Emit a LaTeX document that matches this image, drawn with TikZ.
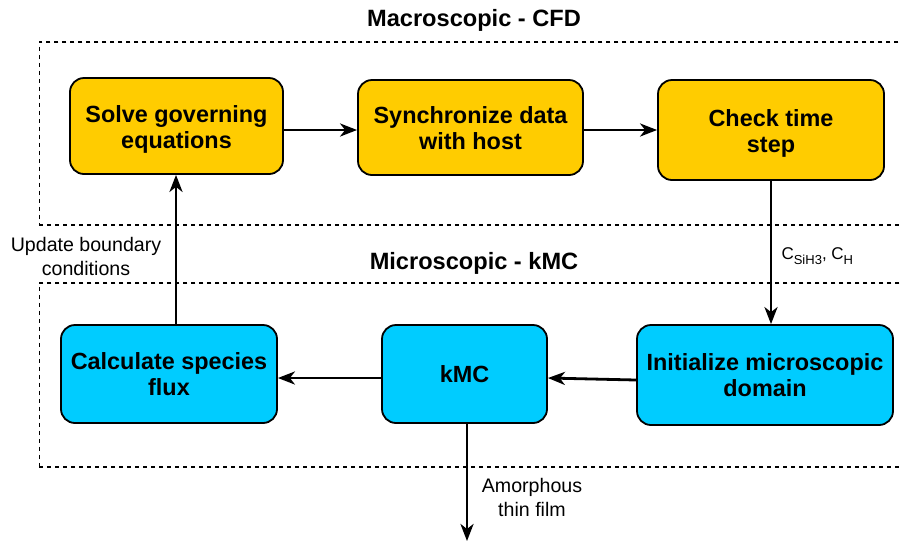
\documentclass[tikz,border=0pt]{standalone}
\usepackage{fontspec}
\setmainfont{Liberation Sans}
\usetikzlibrary{arrows.meta,positioning}
\definecolor{boxyellow}{HTML}{FFCC00}
\definecolor{boxcyan}{HTML}{00CCFF}
\newcommand{\subx}[1]{\raisebox{-4.5pt}{\fontsize{13}{13}\selectfont #1}}
\newcommand{\lowtext}[1]{\raisebox{-4pt}[\height][\depth]{\begin{tabular}{@{}c@{}}#1\end{tabular}}}
\tikzset{
  procbox/.style={draw=black, line width=1.8pt, rounded corners=14pt, align=center,
    font=\fontsize{23.4}{26}\selectfont\bfseries, inner sep=0pt},
  ybox/.style={procbox, fill=boxyellow},
  cbox/.style={procbox, fill=boxcyan},
  zone/.style={draw=black, line width=1.6pt, dash pattern=on 4pt off 4pt},
  ttl/.style={font=\fontsize{23.6}{26}\selectfont\bfseries},
  lbl/.style={font=\fontsize{19.6}{24}\selectfont, align=center},
  flow/.style={draw=black, line width=2.8pt, -{Stealth[length=17pt,width=13pt,inset=5pt]}}
}
\begin{document}
\begin{tikzpicture}[x=1pt,y=-1pt]
\useasboundingbox (0,0) rectangle (901,542);
% zones
\node[zone, minimum width=862pt, minimum height=183pt, anchor=north west] (macro) at (38.5,41) {};
\node[zone, minimum width=862pt, minimum height=184pt, anchor=north west] (micro) at (38.5,282) {};
\node[ttl] (tmacro) at (474,20) {Macroscopic - CFD};
\node[ttl] (tmicro) at (474,263) {Microscopic - kMC};
% boxes
\node[ybox, minimum width=213pt, minimum height=96pt] (solve) at (176.5,126) {\lowtext{Solve governing\\equations}};
\node[ybox, minimum width=225pt, minimum height=95pt] (sync) at (470.5,127.5) {\lowtext{Synchronize data\\with host}};
\node[ybox, minimum width=226pt, minimum height=100pt] (check) at (771,130) {\lowtext{Check time\\step}};
\node[cbox, minimum width=216pt, minimum height=98pt] (flux) at (169,374) {Calculate species\\flux};
\node[cbox, minimum width=165pt, minimum height=98pt] (kmc) at (464.5,374) {kMC};
\node[cbox, minimum width=256pt, minimum height=100pt] (init) at (765,375) {Initialize microscopic\\domain};
% connectors
\coordinate (film) at (467,541);
\draw[flow] (solve.east |- 0,130) -- (sync.west |- 0,130);
\draw[flow] (sync.east |- 0,130) -- (check.west |- 0,130);
\draw[flow] (check.south -| 771,0) -- (init.north -| 771,0);
\draw[flow] (init.west |- 0,380) -- (kmc.east |- 0,378);
\draw[flow] (kmc.west |- 0,378) -- (flux.east |- 0,378);
\draw[flow] (flux.north -| 176,0) -- (solve.south -| 176,0);
\draw[flow] (kmc.south -| 467,0) -- (film);
% labels
\node[lbl, anchor=west, font=\fontsize{17}{22}\selectfont] (conc) at (778,256) {C\subx{SiH3}, C\subx{H}};
\node[lbl] (bc) at (86,256) {Update boundary\\conditions};
\node[lbl] (amor) at (532,497) {Amorphous\\thin film};
\end{tikzpicture}
\end{document}
